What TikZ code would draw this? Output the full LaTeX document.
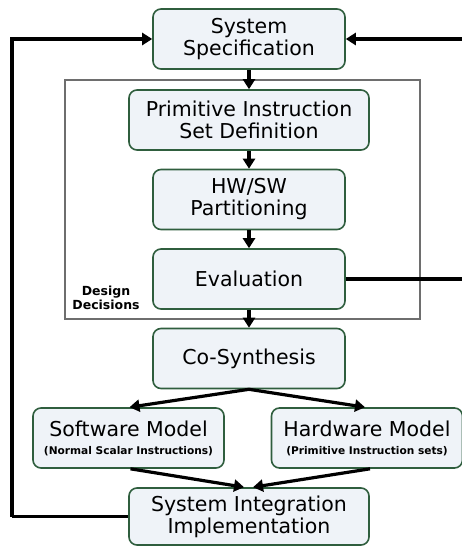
\documentclass[tikz,border=0pt]{standalone}
\usepackage{fontspec}
\setmainfont{DejaVu Sans}
\usepackage{tikz}
\usetikzlibrary{arrows.meta,positioning,calc}
\definecolor{boxgreen}{RGB}{47,94,62}
\definecolor{boxfill}{RGB}{239,243,248}
\definecolor{framegray}{RGB}{110,110,110}
\newcommand{\subnotefont}{\fontsize{10.6}{12}\selectfont\bfseries}

\begin{document}
\begin{tikzpicture}[x=1pt, y=-1pt,
    block/.style={rectangle, rounded corners=8pt, draw=boxgreen, line width=1.6pt, fill=boxfill,
        minimum width=192pt, minimum height=60pt, align=center, inner sep=0pt,
        font=\fontsize{20.5}{22}\selectfont},
    wideblock/.style={block, minimum width=240pt},
    arr/.style={-{Triangle[length=10pt, width=12pt]}, line width=3.2pt},
    fb/.style={line width=3.2pt}]

    \clip (0,0) rectangle (462,546);

    % Design decision frame
    \draw[framegray, line width=1.8pt] (65,80) rectangle (420,319);
    \node[font=\fontsize{12.5}{13.5}\selectfont\bfseries, align=center] (dd) at (106,298) {Design\\Decisions};

    % Blocks
    \node[block] (spec) at (249,39) {System\\Specification};
    \node[wideblock] (prim) at (249,120) {Primitive Instruction\\Set Definition};
    \node[block] (part) at (249,199.5) {HW/SW\\Partitioning};
    \node[block] (eval) at (249,279) {Evaluation};
    \node[block] (cosyn) at (249,358.5) {Co-Synthesis};
    \node[block, minimum width=191pt] (sw) at (128.5,438)
        {Software Model\\[-4pt]{\subnotefont(Normal Scalar Instructions)}};
    \node[block, minimum width=191pt] (hw) at (367,438)
        {Hardware Model\\[-4pt]{\subnotefont(Primitive Instruction sets)}};
    \node[wideblock, minimum height=57pt] (integ) at (249,516.5) {System Integration\\Implementation};

    % Flow
    \foreach \a/\b in {spec/prim, prim/part, part/eval, eval/cosyn} {
        \draw[arr] (\a) -- (\b);
    }
    \draw[arr] (cosyn.south) -- ([xshift=1pt]sw.north);
    \draw[arr] (cosyn.south) -- ([xshift=-2pt]hw.north);
    \draw[arr] ([xshift=2pt]sw.south) -- ([xshift=-5pt]integ.north);
    \draw[arr] ([xshift=3pt]hw.south) -- ([xshift=4pt]integ.north);

    % Feedback loops
    \coordinate (lcorner) at (12,516.5);
    \coordinate (rcorner) at (465,279);
    \draw[fb] (integ.west) -- (lcorner);
    \draw[arr] (lcorner) |- (spec.west);
    \draw[fb] (eval.east) -- (rcorner);
    \draw[arr] (rcorner) |- (spec.east);
\end{tikzpicture}
\end{document}
